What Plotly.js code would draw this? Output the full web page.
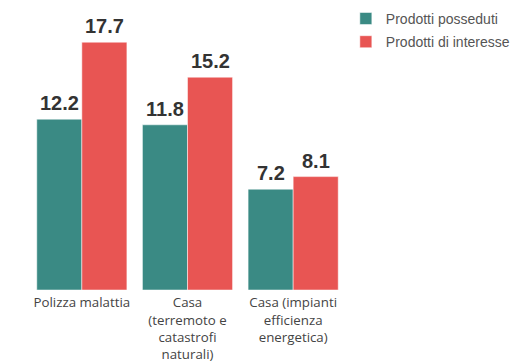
<!DOCTYPE html>
<html><head><meta charset="utf-8">
<script src="https://cdn.plot.ly/plotly-3.0.1.min.js"></script>
<style>html,body{margin:0;padding:0;background:#fff}#chart{width:528px;height:363px}</style>
</head><body><div id="chart"></div>
<script>
const categories = ["Polizza malattia", "Casa<br>(terremoto e<br>catastrofi<br>naturali)", "Casa (impianti<br>efficienza<br>energetica)"];
const posseduti = [12.2, 11.8, 7.2];
const interesse = [17.7, 15.2, 8.1];
const seriesNames = ["Prodotti posseduti", "Prodotti di interesse"];

function mk(vals, name, color, grp) {
  return {type: "bar", x: categories, y: vals, name: name, legendgroup: grp,
    marker: {color: color, line: {color: "#ffffff", width: 0.5}}, hoverinfo: "skip"};
}
const data = [mk(posseduti, seriesNames[0], "#3a8a84", "a"), mk(interesse, seriesNames[1], "#e85553", "b")];

const annotations = [];
[posseduti, interesse].forEach((vals, si) => {
  vals.forEach((v, i) => {
    annotations.push({x: i, y: v, xref: "x", yref: "y", text: "<b>" + v.toFixed(1) + "</b>",
      showarrow: false, yanchor: "middle", yshift: 16, xshift: si === 0 ? -22.5 : 22.5,
      font: {family: "Liberation Sans, Arial, sans-serif", size: 20, color: "#333333"}});
  });
});

const layout = {
  width: 528, height: 363,
  margin: {l: 29, r: 182, t: 10, b: 73, autoexpand: false},
  barmode: "group", bargap: 0.147, bargroupgap: 0,
  paper_bgcolor: "#fff", plot_bgcolor: "#fff",
  font: {family: "Liberation Sans, Arial, sans-serif", size: 14, color: "#444"},
  xaxis: {type: "category", showline: false, ticks: "", ticklabelstandoff: 3, automargin: false,
    tickfont: {family: "Open Sans, sans-serif", size: 13.3, color: "#444"}, showgrid: false},
  yaxis: {range: [0, 20], visible: false, showgrid: false, zeroline: false},
  annotations: annotations,
  showlegend: true,
  legend: {xref: "container", yref: "container", x: 0.655, y: 0.992, xanchor: "left", yanchor: "top",
    traceorder: "grouped", tracegroupgap: 2,
    font: {size: 14, color: "#555"}, itemwidth: 30}
};
Plotly.newPlot("chart", data, layout, {displayModeBar: false, staticPlot: true});
</script></body></html>
